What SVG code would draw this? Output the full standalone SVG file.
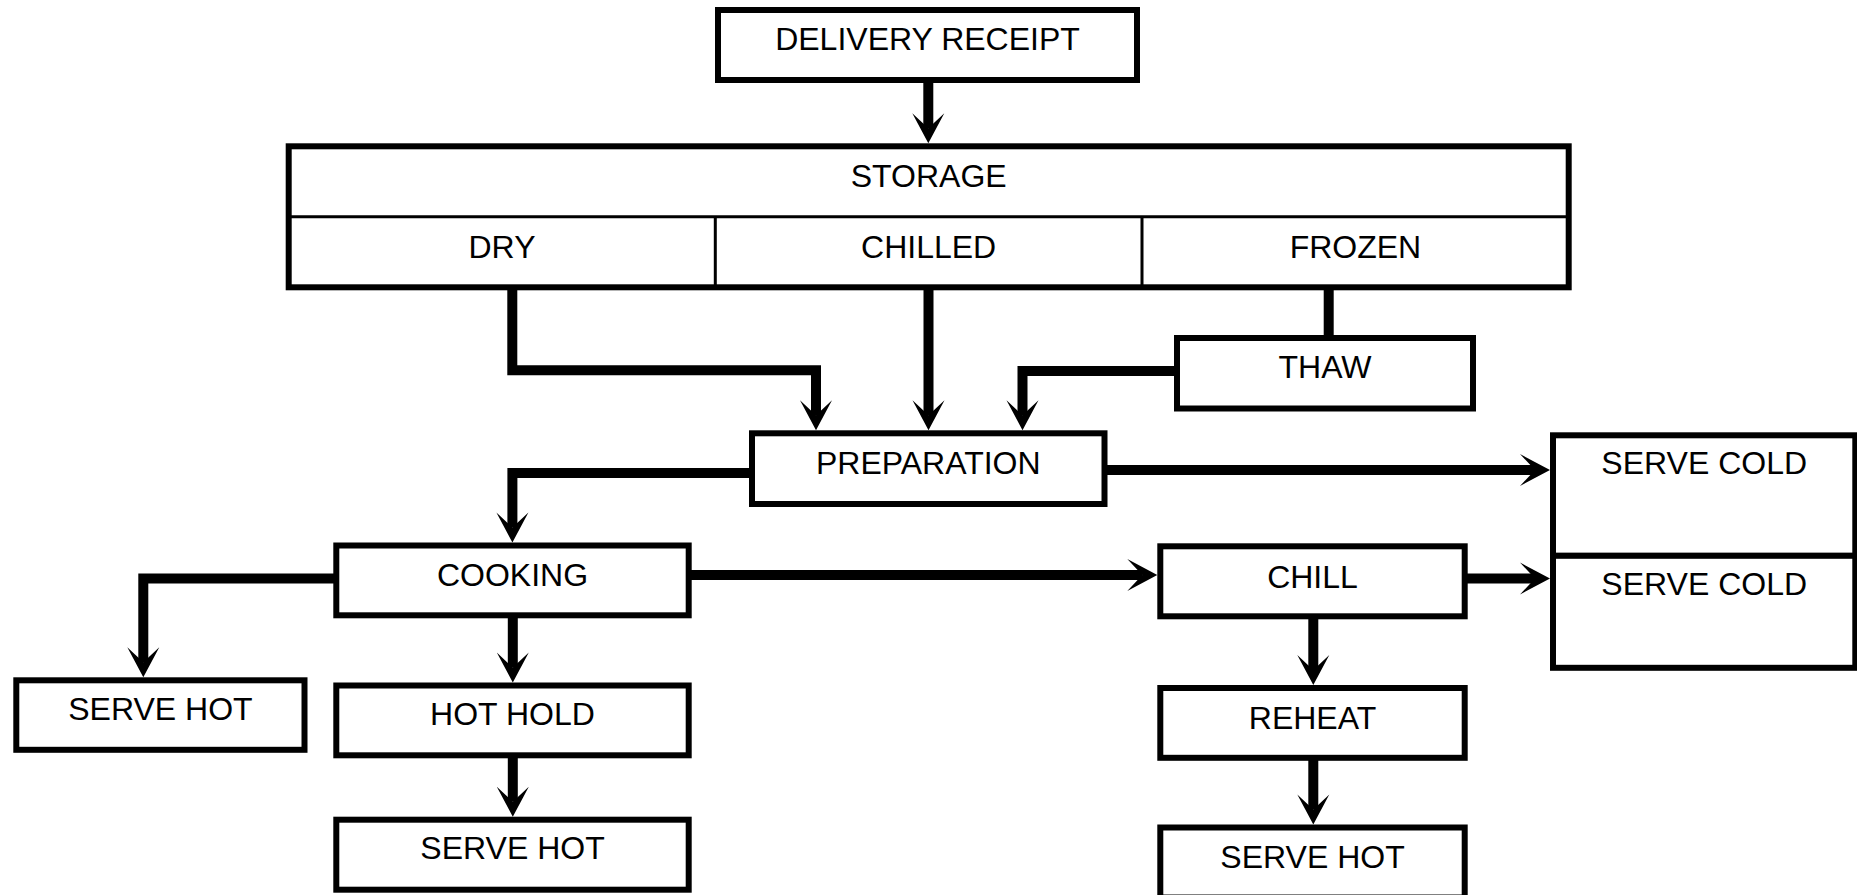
<svg xmlns="http://www.w3.org/2000/svg" width="1857" height="895" viewBox="0 0 1857 895">
<style>
.box{fill:#fff;stroke:#000;stroke-width:6}
.div{fill:none;stroke:#000;stroke-width:3}
.lbl{font-family:"Liberation Sans",Arial,sans-serif;font-size:32px;fill:#000;text-anchor:middle}
.con{fill:none;stroke:#000;stroke-width:10;stroke-linejoin:miter;stroke-linecap:butt}
.arr{marker-end:url(#ah)}
</style>
<defs>
<marker id="ah" viewBox="-16 -17 32 34" refX="0" refY="0" markerWidth="32" markerHeight="34" markerUnits="userSpaceOnUse" orient="auto">
<path d="M15,0 L-15,-16 L0,0 L-15,16 Z" fill="#000"/>
</marker>
</defs>
<rect width="1857" height="895" fill="#fff"/>
<g id="connectors">
<path class="con arr" d="M928.3,80 V128.3"/>
<path class="con arr" d="M512.3,287.3 V370.3 H816 V415.3"/>
<path class="con arr" d="M928.5,287.3 V415.3"/>
<path class="con" d="M1328.7,287.3 V338"/>
<path class="con arr" d="M1177,371 H1022.5 V415.3"/>
<path class="con arr" d="M1104.5,470 H1535"/>
<path class="con arr" d="M752,473 H512.4 V527.5"/>
<path class="con arr" d="M336.3,578.5 H143.3 V662.3"/>
<path class="con arr" d="M512.8,615.3 V667.5"/>
<path class="con arr" d="M512.8,755.3 V801.7"/>
<path class="con arr" d="M688.7,575 H1142.3"/>
<path class="con arr" d="M1464.7,578.5 H1535"/>
<path class="con arr" d="M1313.3,616.3 V670"/>
<path class="con arr" d="M1313.3,757.8 V809.5"/>
</g>
<g id="delivery">
<rect class="box" x="718" y="10" width="419" height="70"/>
<text class="lbl" x="927.5" y="50">DELIVERY RECEIPT</text>
</g>
<g id="storage">
<rect class="box" x="288.7" y="146.3" width="1280" height="141"/>
<path class="div" d="M288.7,216.7 H1568.7 M715.3,216.7 V287.3 M1142,216.7 V287.3"/>
<text class="lbl" x="928.7" y="187">STORAGE</text>
<text class="lbl" x="502" y="258.3">DRY</text>
<text class="lbl" x="928.6" y="258.3">CHILLED</text>
<text class="lbl" x="1355.4" y="258.3">FROZEN</text>
</g>
<g id="thaw">
<rect class="box" x="1177" y="338" width="296" height="70.5"/>
<text class="lbl" x="1325" y="378.3">THAW</text>
</g>
<g id="preparation">
<rect class="box" x="752" y="433.3" width="352.5" height="70.7"/>
<text class="lbl" x="928.3" y="474">PREPARATION</text>
</g>
<g id="cooking">
<rect class="box" x="336.3" y="545.5" width="352.4" height="69.8"/>
<text class="lbl" x="512.5" y="585.7">COOKING</text>
</g>
<g id="hothold">
<rect class="box" x="336.3" y="685.5" width="352.4" height="69.8"/>
<text class="lbl" x="512.5" y="725">HOT HOLD</text>
</g>
<g id="servehot-bottom">
<rect class="box" x="336.3" y="819.7" width="352.4" height="70"/>
<text class="lbl" x="512.5" y="859.3">SERVE HOT</text>
</g>
<g id="servehot-left">
<rect class="box" x="16.3" y="680.3" width="288.2" height="69.5"/>
<text class="lbl" x="160.4" y="720">SERVE HOT</text>
</g>
<g id="chill">
<rect class="box" x="1160.3" y="546.3" width="304.4" height="70"/>
<text class="lbl" x="1312.5" y="587.7">CHILL</text>
</g>
<g id="reheat">
<rect class="box" x="1160.3" y="688" width="304.4" height="69.8"/>
<text class="lbl" x="1312.5" y="729.3">REHEAT</text>
</g>
<g id="servehot-right">
<rect class="box" x="1160.3" y="827.5" width="304.4" height="70"/>
<text class="lbl" x="1312.5" y="867.7">SERVE HOT</text>
</g>
<g id="servecold-1">
<rect class="box" x="1553" y="435.3" width="302.3" height="120.5"/>
<text class="lbl" x="1704.2" y="474.3">SERVE COLD</text>
</g>
<g id="servecold-2">
<rect class="box" x="1553" y="555.8" width="302.3" height="112"/>
<text class="lbl" x="1704.2" y="595">SERVE COLD</text>
</g>
</svg>
